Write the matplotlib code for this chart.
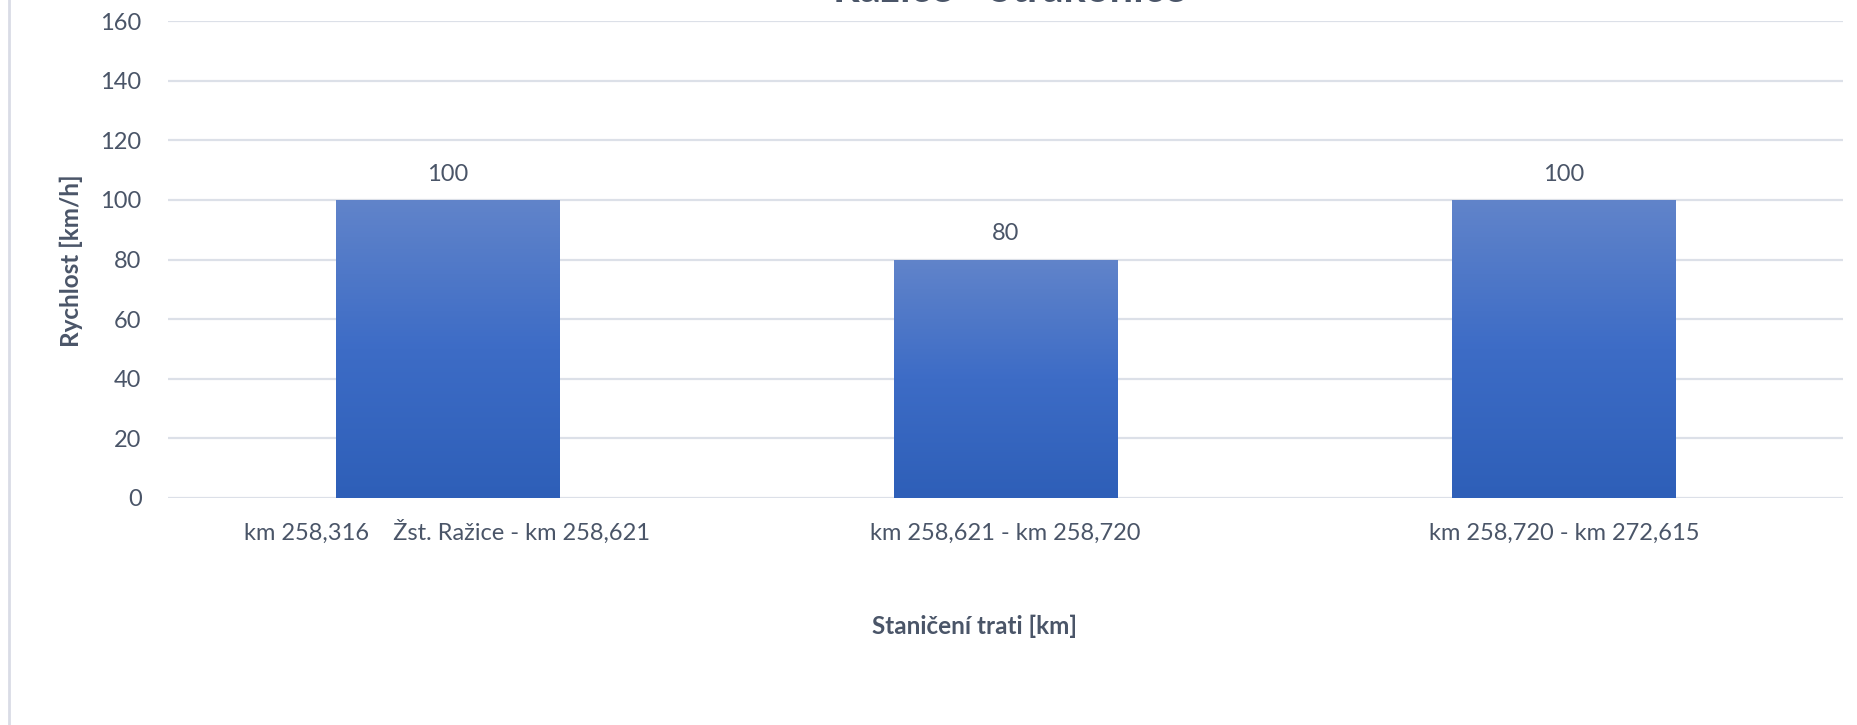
import matplotlib
matplotlib.use("Agg")
import matplotlib.pyplot as plt
import numpy as np
from matplotlib.colors import LinearSegmentedColormap

categories = ["km 258,316    Žst. Ražice - km 258,621",
              "km 258,621 - km 258,720",
              "km 258,720 - km 272,615"]
speeds = [100, 80, 100]
yticks = [0, 20, 40, 60, 80, 100, 120, 140, 160]
title = "Ražice - Strakonice"
xlabel = "Staničení trati [km]"
ylabel = "Rychlost [km/h]"

plt.rcParams['font.family'] = ['Lato', 'DejaVu Sans']
txt = '#4A5568'
grid_c = '#DCE0E8'

fig = plt.figure(figsize=(18.58, 7.25), dpi=100)
ax = fig.add_axes([168/1858, 1-498/725, (1843-168)/1858, (498-21)/725])

x = np.arange(len(categories))
bars = ax.bar(x, speeds, width=0.4, color='none', edgecolor='none', zorder=3)

cmap = LinearSegmentedColormap.from_list('g', ['#2E5FB8', '#3D6CC6', '#6184CA'])
grad = np.linspace(0, 1, 256).reshape(-1, 1)
for b in bars:
    x0, y0 = b.get_x(), b.get_y()
    w, h = b.get_width(), b.get_height()
    im = ax.imshow(grad, cmap=cmap, origin='lower', aspect='auto',
                   extent=(x0, x0 + w, y0, y0 + h), zorder=3)
    im.set_clip_path(b)

for xi, v in zip(x, speeds):
    ax.annotate(str(v), (xi, v), xytext=(0, 11), textcoords='offset points',
                ha='center', va='bottom', fontsize=17, color=txt)

ax.set_xlim(-0.5, len(categories) - 0.5)
ax.set_ylim(0, 160)
ax.set_yticks(yticks)
ax.set_xticks(x)
ax.set_xticklabels(categories)
ax.tick_params(axis='both', length=0, labelsize=17, labelcolor=txt)
ax.tick_params(axis='y', pad=19)
ax.tick_params(axis='x', pad=30)
for lbl in ax.get_xticklabels():
    lbl.set_va('baseline')
ax.grid(axis='y', color=grid_c, linewidth=1.6, zorder=0)
ax.set_axisbelow(True)
for s in ax.spines.values():
    s.set_visible(False)

ax.set_xlabel(xlabel, fontsize=17.5, fontweight='bold', color=txt, labelpad=0)
ax.xaxis.set_label_coords(0.4813, -(626-498)/477, transform=ax.transAxes)
ax.xaxis.label.set_va('center')
ax.set_ylabel(ylabel, fontsize=17.5, fontweight='bold', color=txt)
ax.yaxis.set_label_coords((71-168)/1675, 1-(261-21)/477)
ax.yaxis.label.set_va('center')

fig.text(1010/1858, 1 - 2/725, title, ha='center', va='baseline', fontsize=30,
         fontweight='bold', color=txt)

fig.add_artist(plt.Line2D([9.5/1858, 9.5/1858], [0, 1], color='#D9DCE6', linewidth=2,
                          transform=fig.transFigure))

fig.savefig('out.png', dpi=100)
